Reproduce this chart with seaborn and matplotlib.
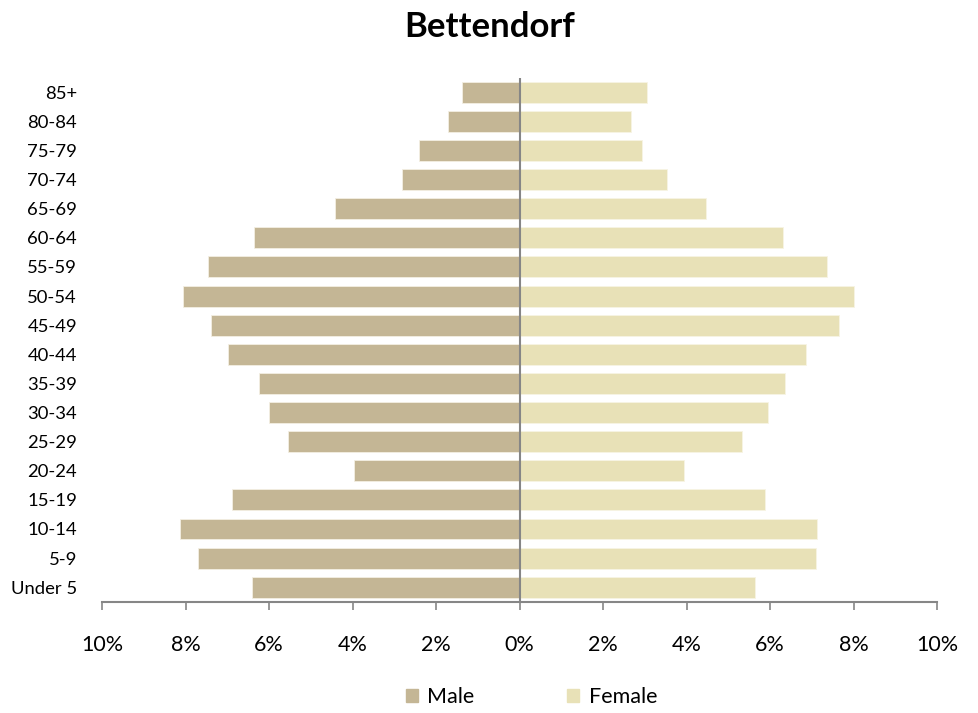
import numpy as np
import pandas as pd
import matplotlib
matplotlib.use("Agg")
import matplotlib.pyplot as plt
import matplotlib.patches as mpatches
from matplotlib.ticker import FuncFormatter
import seaborn as sns

age_groups = ['85+', '80-84', '75-79', '70-74', '65-69', '60-64', '55-59', '50-54', '45-49',
              '40-44', '35-39', '30-34', '25-29', '20-24', '15-19', '10-14', '5-9', 'Under 5']
male_pct = [1.38, 1.72, 2.41, 2.82, 4.41, 6.37, 7.47, 8.06, 7.40,
            6.99, 6.23, 5.99, 5.55, 3.96, 6.88, 8.13, 7.71, 6.40]
female_pct = [3.06, 2.68, 2.93, 3.53, 4.47, 6.30, 7.36, 8.02, 7.64,
              6.85, 6.36, 5.95, 5.32, 3.95, 5.88, 7.12, 7.09, 5.64]

male_color = '#C4B695'
female_color = '#E8E1B7'

df = pd.DataFrame({'age': age_groups, 'male': [-v for v in male_pct], 'female': female_pct})

sns.set_theme(style="white")
plt.rcParams['font.family'] = ['Lato', 'DejaVu Sans']
plt.rcParams['text.color'] = 'black'
plt.rcParams['xtick.labelcolor'] = 'black'
plt.rcParams['ytick.labelcolor'] = 'black'

fig = plt.figure(figsize=(9.79, 7.13), dpi=100)
ax = fig.add_axes([0.1042, 0.156, 0.853, 0.735])

sns.barplot(data=df, x='male', y='age', order=age_groups, color=male_color, saturation=1,
            width=0.72, edgecolor='#F3EFE3', linewidth=0.6, ax=ax)
sns.barplot(data=df, x='female', y='age', order=age_groups, color=female_color, saturation=1,
            width=0.72, edgecolor='#F7F4E4', linewidth=0.6, ax=ax)

ax.set_xlim(-10, 10)
ax.set_ylim(17.5, -0.5)
ax.set_xticks(np.arange(-10, 11, 2))
ax.xaxis.set_major_formatter(FuncFormatter(lambda v, p: f"{abs(v):.0f}%"))
ax.axvline(0, color='#868686', linewidth=1.5, zorder=5)

for s in ['top', 'right', 'left']:
    ax.spines[s].set_visible(False)
ax.spines['bottom'].set_color('#868686')
ax.spines['bottom'].set_linewidth(1.5)
ax.tick_params(axis='x', bottom=True, length=6, width=1.2, color='#868686', pad=18, labelsize=15.5)
ax.tick_params(axis='y', left=False, pad=12, labelsize=13.3)
ax.set_xlabel('')
ax.set_ylabel('')

fig.suptitle('Bettendorf', fontsize=25, fontweight='bold', y=0.985)

handles = [mpatches.Patch(color=male_color, label='Male'),
           mpatches.Patch(color=female_color, label='Female')]
fig.legend(handles=handles, loc='center', bbox_to_anchor=(0.543, 0.022), ncol=2, frameon=False,
           fontsize=15.5, handlelength=0.55, handleheight=0.55, handletextpad=0.45, columnspacing=4.3)

fig.savefig('out.png', dpi=100)
